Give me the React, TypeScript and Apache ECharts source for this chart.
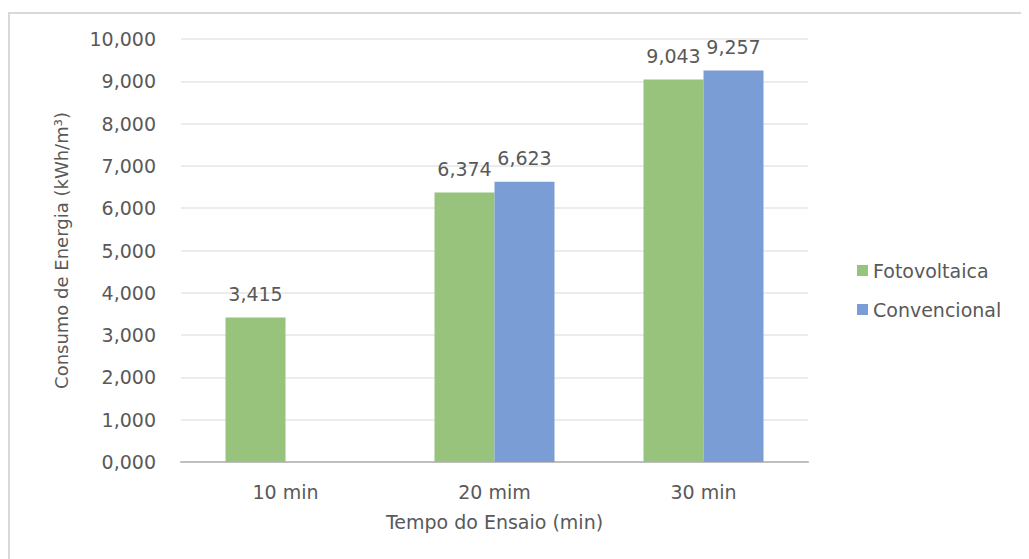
import React, { useEffect, useRef } from "react";
import * as echarts from "echarts";

// Energy consumption per test duration, by supply type
const categories = ["10 min", "20 mim", "30 min"];
const fotovoltaica = [3.415, 6.374, 9.043];
const convencional: (number | null)[] = [null, 6.623, 9.257];
const yTicks = { min: 0, max: 10, interval: 1 };

const TEXT = "#595959";
const FONT = "DejaVu Sans";

const fmt = (v: number) => v.toFixed(3).replace(".", ",");

export default function App() {
  const ref = useRef<HTMLDivElement>(null);

  useEffect(() => {
    if (!ref.current) return;
    const chart = echarts.init(ref.current, undefined, { renderer: "svg" });
    const label = {
      show: true,
      position: "top" as const,
      distance: 14,
      color: TEXT,
      fontFamily: FONT,
      fontSize: 19,
      formatter: (p: any) => fmt(p.value),
    };
    chart.setOption({
      animation: false,
      backgroundColor: "#ffffff",
      textStyle: { fontFamily: FONT, color: TEXT },
      graphic: [
        {
          type: "rect",
          shape: { x: 1, y: 5, width: 1060, height: 600 },
          style: { fill: "none", stroke: "#d9d9d9", lineWidth: 2 },
          silent: true,
        },
      ],
      grid: { left: 173, right: 221, top: 31, bottom: 97 },
      legend: {
        orient: "vertical",
        left: 844,
        top: 248,
        itemWidth: 11,
        itemHeight: 11,
        itemGap: 20,
        icon: "rect",
        textStyle: { color: TEXT, fontFamily: FONT, fontSize: 19 },
        data: ["Fotovoltaica", "Convencional"],
      },
      xAxis: {
        type: "category",
        data: categories,
        name: "Tempo do Ensaio (min)",
        nameLocation: "middle",
        nameGap: 50,
        nameTextStyle: { color: TEXT, fontFamily: FONT, fontSize: 19 },
        axisLine: { lineStyle: { color: "#bfbfbf", width: 2 } },
        axisTick: { show: false },
        axisLabel: { color: TEXT, fontFamily: FONT, fontSize: 19, margin: 20 },
      },
      yAxis: {
        type: "value",
        min: yTicks.min,
        max: yTicks.max,
        interval: yTicks.interval,
        name: "Consumo de Energia (kWh/m³)",
        nameLocation: "middle",
        nameGap: 111,
        nameTextStyle: { color: TEXT, fontFamily: FONT, fontSize: 18 },
        axisLine: { show: false },
        axisTick: { show: false },
        axisLabel: {
          color: TEXT,
          fontFamily: FONT,
          fontSize: 19,
          margin: 25,
          formatter: (v: number) => fmt(v),
        },
        splitLine: { lineStyle: { color: "#e6e6e6", width: 1.5 } },
      },
      series: [
        {
          name: "Fotovoltaica",
          type: "bar",
          data: fotovoltaica,
          barWidth: 60,
          barGap: "0%",
          itemStyle: { color: "#98c37c" },
          label,
        },
        {
          name: "Convencional",
          type: "bar",
          data: convencional,
          barWidth: 60,
          barGap: "0%",
          itemStyle: { color: "#7b9dd5" },
          label,
        },
      ],
    });
    return () => chart.dispose();
  }, []);

  return <div ref={ref} style={{ width: 1021, height: 551 }} />;
}
